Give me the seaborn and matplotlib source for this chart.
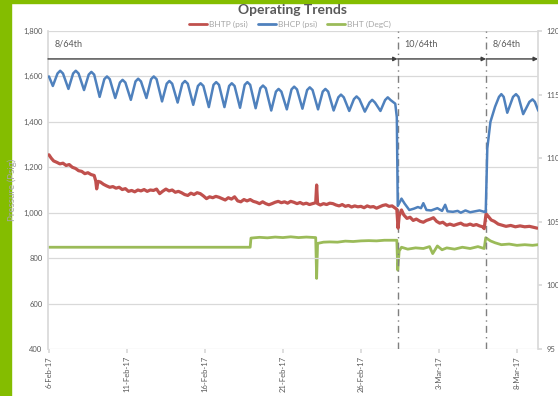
import numpy as np
import pandas as pd
import matplotlib
matplotlib.use('Agg')
import matplotlib.pyplot as plt
import matplotlib.patches as patches
import matplotlib.ticker as mticker
from matplotlib.lines import Line2D
import seaborn as sns

# data (days since 6-Feb-17 00:00)
start = pd.Timestamp('2017-02-06')

bhtp_day = [0.0, 0.15, 0.3, 0.5, 0.7, 0.9, 1.1, 1.3, 1.5, 1.7, 1.9, 2.1, 2.3, 2.5, 2.7, 2.9, 3.0, 3.06, 3.15,
            3.3, 3.5, 3.7, 3.9, 4.1, 4.3, 4.5, 4.7, 4.9, 5.1, 5.3, 5.5, 5.7, 5.9, 6.1, 6.3, 6.5, 6.7, 6.9,
            7.1, 7.3, 7.5, 7.7, 7.9, 8.1, 8.3, 8.5, 8.7, 8.9, 9.1, 9.3, 9.5, 9.7, 9.9, 10.1, 10.3, 10.5,
            10.7, 10.9, 11.1, 11.3, 11.5, 11.7, 11.9, 12.1, 12.3, 12.5, 12.7, 12.9, 13.1, 13.3, 13.5, 13.7,
            13.9, 14.1, 14.3, 14.5, 14.7, 14.9, 15.1, 15.3, 15.5, 15.7, 15.9, 16.1, 16.3, 16.5, 16.7, 16.9,
            17.1, 17.16, 17.22, 17.4, 17.6, 17.8, 18.0, 18.2, 18.4, 18.6, 18.8, 19.0, 19.2, 19.4, 19.6,
            19.8, 20.0, 20.2, 20.4, 20.6, 20.8, 21.0, 21.2, 21.4, 21.6, 21.8, 22.0, 22.2, 22.3, 22.38,
            22.45, 22.6, 22.75, 22.95, 23.15, 23.35, 23.55, 23.8, 24.0, 24.2, 24.45, 24.65, 24.85, 25.05,
            25.25, 25.5, 25.7, 25.95, 26.2, 26.4, 26.6, 26.8, 27.0, 27.2, 27.4, 27.6, 27.8, 27.9, 28.02,
            28.15, 28.35, 28.55, 28.8, 29.05, 29.3, 29.6, 29.9, 30.2, 30.5, 30.8, 31.05, 31.3]
bhtp_psi = [1255, 1240, 1228, 1222, 1215, 1218, 1208, 1212, 1200, 1195, 1185, 1182, 1172, 1176, 1168, 1164, 1140, 1105, 1138,
            1135, 1125, 1118, 1112, 1115, 1108, 1112, 1102, 1106, 1094, 1098, 1092, 1100, 1096, 1102, 1094, 1100, 1098, 1104,
            1084, 1095, 1104, 1096, 1100, 1090, 1094, 1088, 1080, 1076, 1086, 1080, 1088, 1084, 1074, 1062, 1070, 1066,
            1072, 1068, 1062, 1056, 1066, 1060, 1070, 1052, 1048, 1058, 1052, 1058, 1050, 1046, 1040, 1048,
            1040, 1035, 1040, 1046, 1050, 1044, 1048, 1042, 1050, 1046, 1040, 1045, 1038, 1042, 1036, 1040,
            1044, 1122, 1040, 1034, 1040, 1036, 1042, 1040, 1034, 1030, 1036, 1028, 1032, 1025, 1030,
            1026, 1028, 1022, 1030, 1025, 1027, 1020, 1026, 1032, 1035, 1028, 1030, 1020, 1015, 932,
            985, 1012, 990, 975, 980, 966, 972, 962, 958, 966, 972, 978, 962, 954,
            958, 945, 950, 944, 950, 954, 946, 945, 950, 944, 948, 942, 938, 930, 995,
            985, 968, 962, 950, 945, 940, 944, 938, 942, 938, 940, 936, 932]

bhcp_day = [0.0, 0.25, 0.55, 0.72, 0.9, 1.25, 1.55, 1.72, 1.9, 2.25, 2.55, 2.72, 2.9, 3.25, 3.55, 3.72, 3.9,
            4.25, 4.55, 4.72, 4.9, 5.25, 5.55, 5.72, 5.9, 6.25, 6.55, 6.72, 6.9, 7.25, 7.55, 7.72, 7.9,
            8.25, 8.55, 8.72, 8.9, 9.25, 9.55, 9.72, 9.9, 10.25, 10.55, 10.72, 10.9, 11.25, 11.55, 11.72, 11.9,
            12.25, 12.55, 12.72, 12.9, 13.25, 13.55, 13.72, 13.9, 14.25, 14.55, 14.72, 14.9, 15.25, 15.55, 15.72,
            15.9, 16.25, 16.55, 16.72, 16.9, 17.25, 17.55, 17.72, 17.9, 18.25, 18.55, 18.72, 18.9, 19.25, 19.55,
            19.72, 19.9, 20.25, 20.55, 20.72, 20.9, 21.25, 21.55, 21.72, 21.9,
            22.2, 22.3, 22.36, 22.6, 22.8, 23.1, 23.4, 23.65, 23.85, 24.0, 24.2, 24.5, 24.9, 25.2, 25.4, 25.55,
            25.9, 26.2, 26.4, 26.7, 27.0, 27.3, 27.6, 27.9, 28.0, 28.1, 28.3, 28.6, 28.85, 29.0, 29.15, 29.38,
            29.75, 29.94, 30.1, 30.4, 30.8, 31.0, 31.15, 31.37]
bhcp_psi = [1600, 1558, 1613, 1625, 1613, 1545, 1613, 1625, 1613, 1540, 1608, 1620, 1608, 1510, 1588, 1600, 1588,
            1505, 1573, 1585, 1573, 1497, 1578, 1590, 1578, 1505, 1588, 1600, 1588, 1490, 1568, 1580, 1568,
            1485, 1568, 1580, 1568, 1475, 1558, 1570, 1558, 1465, 1563, 1575, 1563, 1465, 1558, 1570, 1558,
            1462, 1563, 1575, 1563, 1460, 1548, 1560, 1548, 1450, 1533, 1545, 1533, 1455, 1543, 1555,
            1543, 1458, 1540, 1552, 1540, 1455, 1533, 1545, 1533, 1450, 1508, 1520, 1508, 1448, 1500,
            1512, 1500, 1445, 1485, 1497, 1485, 1448, 1496, 1508, 1496,
            1480, 1420, 1030, 1062, 1040, 1012, 1018, 1025, 1020, 1042, 1012, 1010, 1020, 1008, 1035, 1006,
            1004, 1008, 1000, 1010, 1002, 1006, 1010, 1004, 1003, 1283, 1400, 1467, 1510, 1522, 1510, 1440,
            1510, 1522, 1510, 1434, 1488, 1499, 1488, 1449]

bht_day = [0.0, 12.9, 12.95, 13.5, 14.0, 14.5, 15.0, 15.5, 16.0, 16.5, 17.1, 17.16, 17.22, 17.6, 18.0, 18.5,
           19.0, 19.5, 20.0, 20.5, 21.0, 21.5, 22.0, 22.3, 22.36, 22.45, 22.6, 23.0, 23.5, 24.0, 24.4, 24.6,
           24.9, 25.2, 25.5, 26.0, 26.5, 27.0, 27.5, 27.9, 28.0, 28.3, 28.6, 29.0, 29.5, 30.0, 30.5, 31.0, 31.35]
bht_degc = [103.0, 103.0, 103.72, 103.78, 103.74, 103.8, 103.76, 103.82, 103.76, 103.8, 103.76, 100.55, 103.3, 103.4,
            103.42, 103.4, 103.48, 103.45, 103.5, 103.52, 103.5, 103.55, 103.55, 103.55, 101.2, 102.7, 103.0, 102.85,
            102.95, 102.9, 103.05, 102.5, 103.1, 102.8, 102.95, 102.85, 103.0, 102.9, 103.05, 102.9, 103.75, 103.5,
            103.35, 103.2, 103.25, 103.15, 103.2, 103.15, 103.2]

choke_change_day = [22.35, 28.02]
choke_labels = ['8/64th', '10/64th', '8/64th']
date_ticks = ['2017-02-06', '2017-02-11', '2017-02-16', '2017-02-21', '2017-02-26', '2017-03-03', '2017-03-08']

RED = '#C0504D'
BLUE = '#4F81BD'
GREEN = '#9BBB59'
TXT = '#595959'


def to_time(days):
    return start + pd.to_timedelta(days, unit='D')


red_df = pd.DataFrame({'time': to_time(bhtp_day), 'value': bhtp_psi})
blue_df = pd.DataFrame({'time': to_time(bhcp_day), 'value': bhcp_psi})
green_df = pd.DataFrame({'time': to_time(bht_day), 'value': bht_degc})

sns.set_theme(style='white')
plt.rcParams['font.family'] = ['Lato', 'DejaVu Sans']

fig = plt.figure(figsize=(5.58, 3.96), dpi=100)
ax = fig.add_axes([48 / 558, 1 - 349 / 396, 490 / 558, 318 / 396])
ax2 = ax.twinx()

sns.lineplot(data=red_df, x='time', y='value', color=RED, lw=2.3, ax=ax, zorder=3)
sns.lineplot(data=blue_df, x='time', y='value', color=BLUE, lw=1.8, ax=ax, zorder=4)
sns.lineplot(data=green_df, x='time', y='value', color=GREEN, lw=2.0, ax=ax2, zorder=3)

ax.set_zorder(ax2.get_zorder() + 1)
ax.patch.set_visible(False)

t0 = to_time(-0.06)
t1 = to_time(31.35)
ax.set_xlim(t0, t1)
ax.set_ylim(400, 1800)
ax.set_yticks(range(400, 1801, 200))
ax.yaxis.set_major_formatter(mticker.FuncFormatter(lambda v, p: f'{int(v):,}'))
ax2.set_ylim(95, 120)
ax2.set_yticks(range(95, 121, 5))

ticks = pd.to_datetime(date_ticks)
ax.set_xticks(ticks)
ax.set_xticklabels([f'{d.day}-{d:%b-%y}' for d in ticks], rotation=90)

ax.grid(axis='y', color='#d9d9d9', lw=0.9)
ax.grid(axis='x', visible=False)
ax2.grid(False)
ax.set_xlabel('')
ax2.set_ylabel('')
ax.set_ylabel('Pressure (Psig)', color='#a6a6a6', fontsize=7)
ax.yaxis.set_label_coords(-31 / 490, 0.5)

for a in (ax, ax2):
    for s in a.spines.values():
        s.set_visible(False)
ax.spines['left'].set_visible(True)
ax.spines['left'].set_color('#d9d9d9')
ax2.spines['right'].set_visible(True)
ax2.spines['right'].set_color('#d9d9d9')

ax.tick_params(axis='y', labelsize=5.5, labelcolor=TXT, length=0, pad=4)
ax.tick_params(axis='x', labelsize=5.5, labelcolor=TXT, length=3, color='#d9d9d9', pad=2, bottom=True)
ax2.tick_params(axis='y', labelsize=5.5, labelcolor=TXT, length=3, color='#d9d9d9', pad=3, right=True)

# choke changes
bounds = [t0] + [to_time(d) for d in choke_change_day] + [t1]
for d in choke_change_day:
    ax.axvline(to_time(d), color='#7f7f7f', lw=1.0, ls=(0, (5, 3, 1, 3)), zorder=2)
for i, lab in enumerate(choke_labels):
    ax.annotate('', xy=(bounds[i + 1], 1677), xytext=(bounds[i], 1677),
                arrowprops=dict(arrowstyle='-|>', color='#404040', lw=1.0, mutation_scale=6,
                                shrinkA=0, shrinkB=0))
    ax.text(bounds[i] + pd.Timedelta(days=0.45), 1742, lab, fontsize=6.5, color=TXT, va='center')

fig.text(293 / 558, 1 - 10 / 396, 'Operating Trends', ha='center', va='center',
         fontsize=10, fontweight='bold', color=TXT)
handles = [Line2D([], [], color=RED, lw=2), Line2D([], [], color=BLUE, lw=2), Line2D([], [], color=GREEN, lw=2)]
fig.legend(handles, ['BHTP (psi)', 'BHCP (psi)', 'BHT (DegC)'], loc='center', ncol=3,
           bbox_to_anchor=(290 / 558, 1 - 24 / 396), frameon=False, fontsize=6, labelcolor='#a6a6a6',
           handlelength=2.2, handletextpad=0.2, columnspacing=1.2)

# green frame
fig.patches.append(patches.Rectangle((0, 0), 11 / 558, 1, transform=fig.transFigure,
                                     color='#84BD00', zorder=0))
fig.patches.append(patches.Rectangle((0, 1 - 3 / 396), 1, 3 / 396, transform=fig.transFigure,
                                     color='#84BD00', zorder=0))

fig.savefig('out.png', dpi=100)
